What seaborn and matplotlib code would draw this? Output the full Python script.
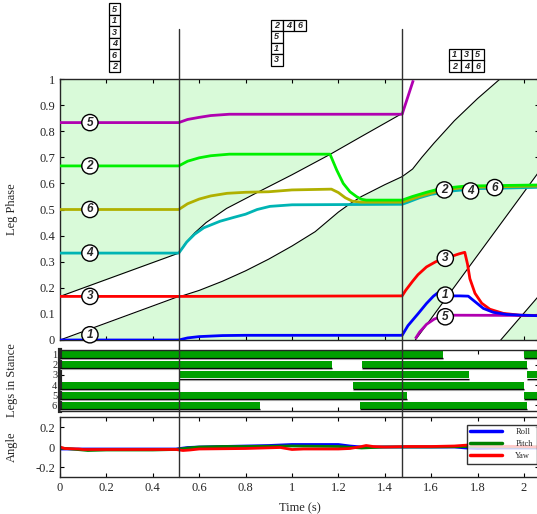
import numpy as np
import pandas as pd
import seaborn as sns
import matplotlib
matplotlib.use("Agg")
import matplotlib.pyplot as plt
from matplotlib.lines import Line2D
from matplotlib.patches import Rectangle
from matplotlib.transforms import blended_transform_factory

# ---------------- data ----------------
XMAX = 2.065
transitions = [0.512, 1.475]

leg_colors = {1: "#0000ff", 2: "#00f000", 3: "#ff0000", 4: "#00b4b4", 5: "#b000b0", 6: "#b0b000"}

leg1_t = [0, 0.512, 0.55, 0.6, 0.7, 0.8, 1.475, 1.5, 1.543, 1.58, 1.61, 1.635, 1.66, 1.69, 1.724, 1.76, 1.789, 1.825, 1.868, 1.925, 1.99, XMAX]
leg1_y = [0, 0, 0.008, 0.013, 0.017, 0.018, 0.018, 0.055, 0.10, 0.14, 0.168, 0.185, 0.178, 0.169, 0.169, 0.168, 0.147, 0.121, 0.106, 0.098, 0.095, 0.093]

leg2_t = [0, 0.512, 0.55, 0.6, 0.65, 0.73, 1.164, 1.193, 1.221, 1.25, 1.279, 1.30, 1.32, 1.475, 1.52, 1.58, 1.64, 1.75, XMAX]
leg2_y = [0.667, 0.667, 0.685, 0.698, 0.706, 0.712, 0.712, 0.651, 0.60, 0.568, 0.549, 0.539, 0.536, 0.536, 0.550, 0.566, 0.580, 0.590, 0.594]

leg3_t = [0, 0.512, 1.475, 1.49, 1.52, 1.543, 1.58, 1.62, 1.68, 1.72, 1.745, 1.757, 1.767, 1.789, 1.818, 1.853, 1.911, 1.983, XMAX]
leg3_y = [0.167, 0.167, 0.169, 0.19, 0.225, 0.25, 0.28, 0.30, 0.318, 0.33, 0.336, 0.29, 0.235, 0.179, 0.141, 0.118, 0.102, 0.095, 0.094]

leg4_t = [0, 0.512, 0.53, 0.546, 0.58, 0.62, 0.69, 0.75, 0.80, 0.85, 0.905, 1.0, 1.475, 1.5, 1.55, 1.6, 1.7, 1.8, XMAX]
leg4_y = [0.333, 0.333, 0.355, 0.375, 0.405, 0.43, 0.455, 0.47, 0.482, 0.50, 0.512, 0.518, 0.52, 0.528, 0.545, 0.558, 0.572, 0.58, 0.585]

leg5_t = [0, 0.512, 0.55, 0.6, 0.65, 0.73, 1.475, 1.523, np.nan, 1.532, 1.55, 1.58, 1.613, 1.65, 1.7, XMAX]
leg5_y = [0.833, 0.833, 0.845, 0.853, 0.86, 0.865, 0.865, 0.995, np.nan, 0.005, 0.03, 0.06, 0.08, 0.092, 0.095, 0.094]

leg6_t = [0, 0.512, 0.55, 0.6, 0.65, 0.72, 0.8, 0.9, 1.0, 1.17, 1.2, 1.23, 1.26, 1.3, 1.475, 1.55, 1.65, 1.75, XMAX]
leg6_y = [0.5, 0.5, 0.522, 0.54, 0.552, 0.562, 0.566, 0.568, 0.575, 0.578, 0.565, 0.545, 0.532, 0.528, 0.528, 0.55, 0.575, 0.585, 0.59]

legs_t = {1: leg1_t, 2: leg2_t, 3: leg3_t, 4: leg4_t, 5: leg5_t, 6: leg6_t}
legs_y = {1: leg1_y, 2: leg2_y, 3: leg3_y, 4: leg4_y, 5: leg5_y, 6: leg6_y}

# black boundary curves
L1_t = [0, 0.512]; L1_y = [0, 0.167]
U1_t = [0, 0.512]; U1_y = [0.167, 0.333]
U2_t = [0.512, 0.54, 0.58, 0.63, 0.718, 0.85, 1.0, 1.164, 1.3, 1.475]
U2_y = [0.333, 0.37, 0.41, 0.45, 0.504, 0.565, 0.633, 0.711, 0.78, 0.868]
L2_t = [0.512, 0.6, 0.7, 0.8, 0.9, 1.0, 1.1, 1.2, 1.25, 1.3, 1.4, 1.475]
L2_y = [0.165, 0.19, 0.225, 0.265, 0.31, 0.36, 0.415, 0.49, 0.522, 0.55, 0.595, 0.626]
C3_t = [1.475, 1.52, 1.56, 1.612, 1.7, 1.8, 1.897]
C3_y = [0.626, 0.655, 0.70, 0.754, 0.84, 0.925, 1.0]
D3_t = [1.532, XMAX]; D3_y = [0.0, 0.645]
E3_t = [1.90, XMAX]; E3_y = [0.0, 0.17]

# circled labels
lab_t = [0.129, 0.129, 0.129, 0.129, 0.129, 0.129, 1.657, 1.77, 1.874, 1.661, 1.661, 1.661]
lab_y = [0.833, 0.667, 0.5, 0.333, 0.167, 0.02, 0.575, 0.571, 0.584, 0.313, 0.172, 0.089]
lab_s = ["5", "2", "6", "4", "3", "1", "2", "4", "6", "3", "1", "5"]

# stance intervals
stance_leg = [1, 1, 2, 2, 3, 3, 4, 4, 5, 5, 6, 6]
stance_start = [0.0, 2.002, 0.0, 1.303, 0.512, 2.012, 0.0, 1.263, 0.0, 2.002, 0.0, 1.292]
stance_end = [1.653, XMAX, 1.174, 2.012, 1.763, XMAX, 0.512, 2.002, 1.496, XMAX, 0.862, 2.012]

# body angles
roll_t = [0, 0.1, 0.3, 0.5, 0.55, 0.6, 0.7, 0.8, 0.9, 0.95, 1.0, 1.1, 1.2, 1.25, 1.3, 1.5, 1.7, 1.75, 1.8, 1.9, 2.0, XMAX]
roll_y = [-0.02, -0.02, -0.02, -0.02, -0.005, 0.0, 0.005, 0.01, 0.015, 0.02, 0.025, 0.025, 0.025, 0.01, 0.0, 0.0, 0.0, -0.01, -0.015, -0.01, -0.01, -0.01]
pitch_t = [0, 0.05, 0.12, 0.2, 0.4, 0.5, 0.55, 0.6, 0.7, 0.8, 1.0, 1.2, 1.3, 1.4, 1.6, 1.8, 2.0, XMAX]
pitch_y = [-0.01, -0.02, -0.035, -0.03, -0.03, -0.025, -0.01, 0.0, 0.005, 0.005, 0.01, 0.005, -0.01, 0.0, 0.0, 0.005, 0.0, 0.0]
yaw_t = [0, 0.02, 0.08, 0.1, 0.3, 0.5, 0.53, 0.56, 0.6, 0.8, 0.95, 1.0, 1.05, 1.2, 1.25, 1.3, 1.32, 1.35, 1.4, 1.5, 1.6, 1.7, 1.76, 1.8, 2.0, XMAX]
yaw_y = [0.0, -0.015, -0.02, -0.025, -0.025, -0.025, -0.035, -0.03, -0.02, -0.015, -0.005, -0.025, -0.02, -0.02, -0.015, 0.005, 0.015, 0.005, 0.0, 0.005, 0.005, 0.01, 0.02, 0.01, 0.005, 0.0]

# gait diagrams above the plot
gait_labels = [["5", "1", "3", "4", "6", "2"], ["2", "4", "6", "5", "1", "3"], ["1", "3", "5", "2", "4", "6"]]
gait_cols = [[0, 0, 0, 0, 0, 0], [0, 1, 2, 0, 0, 0], [0, 1, 2, 0, 1, 2]]
gait_rows = [[0, 1, 2, 3, 4, 5], [0, 0, 0, 1, 2, 3], [0, 0, 0, 1, 1, 1]]

# ---------------- style ----------------
sns.set_style("ticks")
plt.rcParams["font.family"] = ["Liberation Serif", "DejaVu Serif"]
plt.rcParams["xtick.direction"] = "in"
plt.rcParams["ytick.direction"] = "in"
plt.rcParams["xtick.major.size"] = 3
plt.rcParams["ytick.major.size"] = 3
plt.rcParams["axes.linewidth"] = 1.0

W, H = 537, 514
fig = plt.figure(figsize=(W / 100, H / 100), dpi=100)


def ax_px(left, top, right, bottom):
    return fig.add_axes([left / W, 1 - bottom / H, (right - left) / W, (bottom - top) / H])


ax1 = ax_px(60, 79, 539, 340)
ax2 = ax_px(60, 349.5, 539, 410.5)
ax3 = ax_px(60, 417, 539, 477)

xt = np.round(np.arange(0, 2.01, 0.2), 1)
for ax in (ax1, ax2, ax3):
    ax.set_xlim(0, XMAX)
    ax.set_xticks(xt)
    ax.tick_params(top=True, right=True, labelsize=9, color="black", width=0.8)

# ---- top panel ----
green_bg = "#d9fad9"
ax1.set_facecolor(green_bg)
ax1.fill_between(L1_t, L1_y, U1_y, color="white", lw=0, zorder=1)
ax1.fill(U2_t + L2_t[::-1], U2_y + L2_y[::-1], color="white", lw=0, zorder=1)
ax1.fill(C3_t + [1.475], C3_y + [1.0], color="white", lw=0, zorder=1)
ax1.fill(D3_t + E3_t[::-1], D3_y + E3_y[::-1], color="white", lw=0, zorder=1)
for tt, yy in [(L1_t, L1_y), (U1_t, U1_y), (U2_t, U2_y), (L2_t, L2_y), (C3_t, C3_y), (D3_t, D3_y), (E3_t, E3_y)]:
    ax1.plot(tt, yy, color="black", lw=0.8, zorder=2)
for leg in [4, 6, 2, 5, 3, 1]:
    ax1.plot(legs_t[leg], legs_y[leg], color=leg_colors[leg], lw=2.0, zorder=3, solid_capstyle="butt")
for t, y, s in zip(lab_t, lab_y, lab_s):
    ax1.text(t, y, s, ha="center", va="center", fontsize=8.5, fontweight="bold", fontstyle="italic",
             family=["Liberation Sans", "DejaVu Sans"], zorder=5,
             bbox=dict(boxstyle="circle,pad=0.18", fc="white", ec="black", lw=1.0))
ax1.set_ylim(0, 1)
ax1.set_yticks(np.round(np.arange(0, 1.01, 0.1), 1))
ax1.set_yticklabels(["0"] + [f"{v:.1f}" for v in np.arange(0.1, 0.95, 0.1)] + ["1"])
ax1.set_xticklabels([])
ax1.set_ylabel("Leg Phase", fontsize=9)
ax1.yaxis.set_label_coords(-0.088, 0.5)
ax1.spines["right"].set_visible(False)

# ---- legs in stance ----
df_st = pd.DataFrame({"leg": stance_leg, "start": stance_start, "end": stance_end})
df_st["dur"] = df_st["end"] - df_st["start"]
ax2.barh(df_st["leg"], df_st["dur"], left=df_st["start"], height=0.68, color="#00a000", edgecolor="none", zorder=2)
ax2.hlines(df_st["leg"] + 0.36, df_st["start"], df_st["end"], color="black", lw=0.9, zorder=3)
ax2.hlines(df_st["leg"] + 0.46, df_st["start"], df_st["end"], color="#a0a0a0", lw=0.8, zorder=3)
ax2.set_ylim(6.5, 0.5)
ax2.set_yticks([1, 2, 3, 4, 5, 6])
ax2.tick_params(axis="y", labelsize=7.5, pad=2)
ax2.set_xticklabels([])
ax2.spines["left"].set_linewidth(3)
ax2.spines["right"].set_visible(False)
ax2.set_ylabel("Legs in Stance", fontsize=9)
ax2.yaxis.set_label_coords(-0.088, 0.5)

# ---- angles ----
df_ang = pd.concat([
    pd.DataFrame({"t": roll_t, "v": roll_y, "s": "Roll"}),
    pd.DataFrame({"t": pitch_t, "v": pitch_y, "s": "Pitch"}),
    pd.DataFrame({"t": yaw_t, "v": yaw_y, "s": "Yaw"}),
])
pal = {"Roll": "#0000ff", "Pitch": "#008000", "Yaw": "#ff0000"}
sns.lineplot(data=df_ang, x="t", y="v", hue="s", palette=pal, estimator=None, sort=False,
             lw=2.0, ax=ax3, legend=False)
ax3.set_ylim(-0.3, 0.3)
ax3.set_yticks([-0.2, 0, 0.2])
ax3.set_yticklabels(["-0.2", "0", "0.2"])
ax3.set_xticklabels(["0"] + [f"{v:.1f}" for v in xt[1:5]] + ["1"] + [f"{v:.1f}" for v in xt[6:10]] + ["2"])
ax3.set_xlabel("Time (s)", fontsize=9)
ax3.xaxis.set_label_coords(0.5, -0.42)
ax3.set_ylabel("Angle", fontsize=9)
ax3.yaxis.set_label_coords(-0.088, 0.5)
ax3.spines["right"].set_visible(False)
handles = [Line2D([], [], color=pal[k], lw=2.5) for k in ["Roll", "Pitch", "Yaw"]]
leg = ax3.legend(handles, ["Roll", "Pitch", "Yaw"], loc="upper left", bbox_to_anchor=(0.849, 0.875),
                 fontsize=6, frameon=True, fancybox=False, handlelength=3.8, borderpad=0.45,
                 labelspacing=0.45, handletextpad=1.6, borderaxespad=0)
leg.get_frame().set_edgecolor("black")
leg.get_frame().set_linewidth(1.0)

# ---- transition lines spanning the figure ----
tr = blended_transform_factory(ax1.transData, fig.transFigure)
for x in transitions:
    fig.add_artist(Line2D([x, x], [1 - 29 / H, 1 - 477 / H], transform=tr, color="#303030", lw=1.0, zorder=10))

# ---- gait diagrams ----
origins = [(108.6, 3.4), (271.0, 19.6), (449.0, 49.0)]
bs = 11.5
for (ox, oy), labs, cols, rows in zip(origins, gait_labels, gait_cols, gait_rows):
    for s, c, r in zip(labs, cols, rows):
        x0 = ox + c * bs
        y0 = oy + r * bs
        fig.add_artist(Rectangle((x0 / W, 1 - (y0 + bs) / H), bs / W, bs / H, transform=fig.transFigure,
                                 fc="white", ec="black", lw=0.9))
        fig.text((x0 + bs / 2) / W, 1 - (y0 + bs / 2) / H, s, ha="center", va="center", fontsize=6.5,
                 fontweight="bold", fontstyle="italic", family=["Liberation Sans", "DejaVu Sans"])

fig.savefig("out.png", dpi=100)
